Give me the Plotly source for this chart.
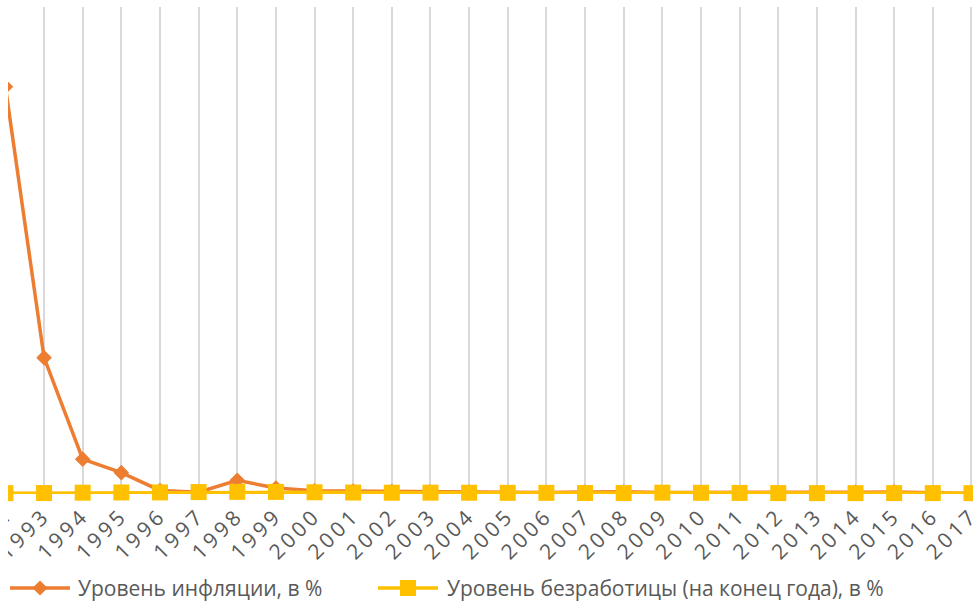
import plotly.graph_objects as go

years = list(range(1992, 2018))
inflation = [2508.8, 840.0, 214.8, 131.6, 21.8, 11.0, 84.4, 36.5, 20.2, 18.6, 15.1, 12.0, 11.7,
             10.9, 9.0, 11.9, 13.3, 8.8, 8.8, 6.1, 6.6, 6.5, 11.4, 12.9, 5.4, 2.5]
unemployment = [5.2, 5.9, 8.1, 9.4, 9.7, 11.8, 13.3, 13.0, 10.6, 9.0, 7.9, 8.2, 7.8,
                7.1, 7.1, 6.0, 6.2, 8.2, 7.3, 6.5, 5.5, 5.5, 5.2, 5.6, 5.5, 5.2]
tick_labels = [str(y) for y in years]
series_names = ["Уровень инфляции, в %", "Уровень безработицы (на конец года), в %"]
series_colors = ["#ED7D31", "#FFC000"]

FONT = "Open Sans"
GRAY = "#595959"
W, H = 973, 608
M_T, M_B = 7, 114
PLOT_H = H - M_T - M_B


def px(x):
    return x / W


def py(y):
    return (H - M_B - y) / PLOT_H


fig = go.Figure()
fig.add_trace(go.Scatter(
    x=years, y=inflation, mode="lines+markers", name=series_names[0],
    line=dict(color=series_colors[0], width=3.5),
    marker=dict(symbol="diamond", size=12, color=series_colors[0]),
    cliponaxis=False,
))
fig.add_trace(go.Scatter(
    x=years, y=unemployment, mode="lines+markers", name=series_names[1],
    line=dict(color=series_colors[1], width=3.5),
    marker=dict(symbol="square", size=16, color=series_colors[1]),
    cliponaxis=False,
))

# the reference is a crop whose left strip is blank (chart clipped at its left edge)
shapes = [dict(type="rect", xref="paper", yref="paper", x0=px(-2), x1=px(8),
               y0=py(H + 2), y1=py(-2), fillcolor="white", line=dict(width=0), layer="above")]
annotations = []
# custom legend (line + marker + text)
legend_items = [(10, 70, 76, "diamond"), (378, 438, 445, "square")]
ly = 588
for (x0, x1, tx, sym), name, col in zip(legend_items, series_names, series_colors):
    shapes.append(dict(type="line", xref="paper", yref="paper", x0=px(x0), x1=px(x1),
                       y0=py(ly), y1=py(ly), line=dict(color=col, width=3.5)))
    cx = (x0 + x1) / 2
    if sym == "diamond":
        r = 7.5
        path = (f"M {px(cx - r)},{py(ly)} L {px(cx)},{py(ly - r)} L {px(cx + r)},{py(ly)} "
                f"L {px(cx)},{py(ly + r)} Z")
    else:
        r = 8
        path = (f"M {px(cx - r)},{py(ly - r)} L {px(cx + r)},{py(ly - r)} L {px(cx + r)},{py(ly + r)} "
                f"L {px(cx - r)},{py(ly + r)} Z")
    shapes.append(dict(type="path", xref="paper", yref="paper", path=path,
                       fillcolor=col, line=dict(width=0)))
    annotations.append(dict(xref="paper", yref="paper", x=px(tx), y=py(ly), text=name,
                            showarrow=False, xanchor="left", yanchor="middle",
                            font=dict(family=FONT, size=21, color=GRAY)))

fig.update_layout(
    width=W, height=H,
    margin=dict(l=0, r=0, t=M_T, b=M_B, autoexpand=False),
    paper_bgcolor="white", plot_bgcolor="white",
    showlegend=False,
    shapes=shapes,
    annotations=annotations,
    xaxis=dict(range=[1991.86, 2017.04], tickmode="array", tickvals=years,
               ticktext=[f'<span style="letter-spacing:3.5px">{t}</span>' for t in tick_labels],
               tickangle=-45, showgrid=True, gridcolor="#d9d9d9", gridwidth=1.5,
               showline=False, zeroline=False, ticks="", automargin=False,
               ticklabeloverflow="allow", ticklabelstandoff=4,
               tickfont=dict(family=FONT, size=21, color=GRAY)),
    yaxis=dict(range=[0, 3000], showgrid=False, zeroline=False, showticklabels=False,
               showline=False, ticks="", automargin=False),
)

fig.write_html("out.html", config={"displayModeBar": False},
               post_script="document.body.style.margin='0';document.body.style.overflow='hidden';")
